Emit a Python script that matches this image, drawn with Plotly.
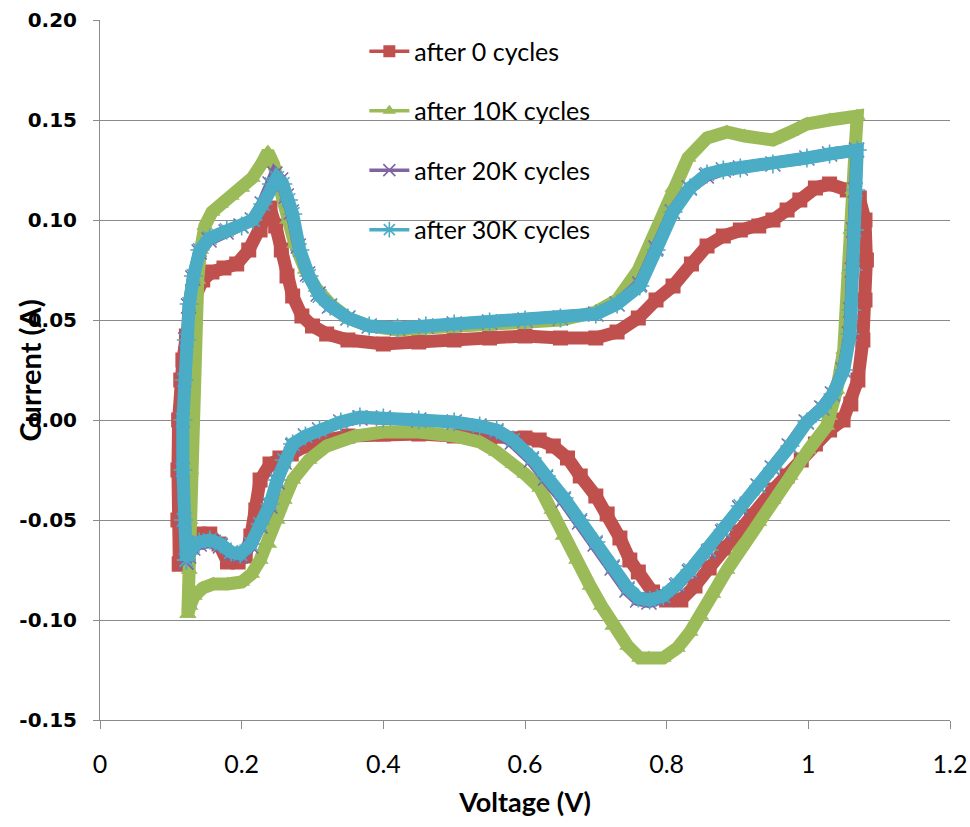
import plotly.graph_objects as go

# ---------------- data ----------------
series_names = ["after 0 cycles", "after 10K cycles", "after 20K cycles", "after 30K cycles"]

V_0 = [0.112, 0.110, 0.110, 0.111, 0.114, 0.117, 0.122, 0.128, 0.135, 0.145, 0.158, 0.175, 0.193, 0.210, 0.226,
       0.240, 0.248, 0.256, 0.264, 0.272, 0.285, 0.300, 0.320, 0.350, 0.400, 0.450, 0.500, 0.550, 0.600, 0.650,
       0.700, 0.730, 0.760, 0.785, 0.809, 0.835, 0.857, 0.880, 0.904, 0.930, 0.950, 0.970, 0.988, 1.010, 1.030,
       1.055, 1.072, 1.080, 1.082, 1.080, 1.077, 1.070, 1.060, 1.049,
       1.030, 1.010, 0.990, 0.970, 0.950, 0.920, 0.900, 0.880, 0.860, 0.840, 0.820, 0.800, 0.780, 0.760, 0.748,
       0.734, 0.716, 0.700, 0.678, 0.660, 0.640, 0.620, 0.600, 0.550, 0.500, 0.450, 0.400, 0.350, 0.320, 0.290,
       0.270, 0.254, 0.240, 0.226, 0.220, 0.213, 0.205, 0.195, 0.180, 0.168, 0.155, 0.140, 0.128, 0.118, 0.112]
I_0 = [-0.072, -0.050, -0.025, 0.000, 0.020, 0.030, 0.042, 0.053, 0.062, 0.070, 0.074, 0.076, 0.078, 0.085, 0.095,
       0.106, 0.097, 0.085, 0.072, 0.062, 0.052, 0.047, 0.043, 0.040, 0.038, 0.039, 0.040, 0.041, 0.042, 0.041,
       0.041, 0.044, 0.051, 0.060, 0.067, 0.078, 0.087, 0.092, 0.095, 0.097, 0.100, 0.105, 0.110, 0.116, 0.118,
       0.115, 0.111, 0.100, 0.080, 0.060, 0.040, 0.020, 0.008, 0.000,
       -0.005, -0.012, -0.020, -0.028, -0.035, -0.048, -0.056, -0.064, -0.074, -0.083, -0.090, -0.090, -0.086,
       -0.076, -0.070, -0.059, -0.047, -0.038, -0.028, -0.019, -0.013, -0.010, -0.009, -0.009, -0.008, -0.007,
       -0.007, -0.008, -0.010, -0.013, -0.017, -0.019, -0.022, -0.030, -0.045, -0.058, -0.068, -0.071, -0.071,
       -0.062, -0.057, -0.057, -0.060, -0.066, -0.072]

V_10K = [0.124, 0.126, 0.127, 0.128, 0.129, 0.131, 0.134, 0.138, 0.142, 0.148, 0.158, 0.170, 0.185, 0.200, 0.215,
         0.228, 0.237, 0.245, 0.255, 0.265, 0.275, 0.290, 0.305, 0.325, 0.350, 0.380, 0.420, 0.460, 0.500, 0.550,
         0.600, 0.650, 0.700, 0.730, 0.760, 0.785, 0.809, 0.830, 0.857, 0.885, 0.910, 0.950, 0.975, 0.998, 1.030,
         1.069, 1.066, 1.063, 1.060, 1.058, 1.056, 1.050, 1.040, 1.030,
         1.026, 1.000, 0.974, 0.950, 0.930, 0.904, 0.885, 0.865, 0.848, 0.833, 0.815, 0.795, 0.775, 0.762, 0.745,
         0.724, 0.708, 0.692, 0.673, 0.654, 0.638, 0.621, 0.600, 0.583, 0.560, 0.536, 0.500, 0.450, 0.400, 0.360,
         0.320, 0.295, 0.272, 0.260, 0.250, 0.238, 0.226, 0.214, 0.200, 0.180, 0.160, 0.145, 0.133, 0.127, 0.124]
I_10K = [-0.097, -0.075, -0.050, -0.025, 0.000, 0.025, 0.050, 0.070, 0.085, 0.097, 0.104, 0.108, 0.112, 0.116, 0.121,
         0.128, 0.134, 0.128, 0.115, 0.100, 0.088, 0.075, 0.066, 0.058, 0.051, 0.047, 0.045, 0.046, 0.047, 0.048,
         0.049, 0.050, 0.054, 0.060, 0.075, 0.095, 0.116, 0.131, 0.141, 0.144, 0.142, 0.140, 0.144, 0.148, 0.150,
         0.152, 0.135, 0.115, 0.095, 0.075, 0.055, 0.035, 0.015, 0.002,
         -0.003, -0.015, -0.028, -0.040, -0.051, -0.063, -0.075, -0.087, -0.098, -0.106, -0.114, -0.119, -0.119,
         -0.119, -0.113, -0.103, -0.093, -0.083, -0.070, -0.058, -0.045, -0.034, -0.027, -0.022, -0.016, -0.011,
         -0.008, -0.006, -0.006, -0.008, -0.013, -0.020, -0.030, -0.040, -0.050, -0.062, -0.070, -0.077, -0.081,
         -0.082, -0.082, -0.084, -0.088, -0.093, -0.097]

V_20K = [0.121, 0.118, 0.116, 0.116, 0.118, 0.121, 0.125, 0.131, 0.140, 0.154, 0.178, 0.199, 0.215, 0.229, 0.240,
         0.247, 0.255, 0.263, 0.270, 0.280, 0.293, 0.308, 0.324, 0.350, 0.380, 0.420, 0.460, 0.500, 0.550, 0.600,
         0.650, 0.700, 0.730, 0.762, 0.785, 0.808, 0.832, 0.856, 0.880, 0.904, 0.950, 0.998, 1.030, 1.068, 1.066,
         1.064, 1.062, 1.060, 1.058, 1.049, 1.034, 1.019,
         0.997, 0.973, 0.949, 0.929, 0.903, 0.879, 0.859, 0.832, 0.814, 0.794, 0.775, 0.759, 0.744, 0.723, 0.699,
         0.677, 0.654, 0.629, 0.609, 0.582, 0.559, 0.535, 0.500, 0.450, 0.400, 0.367, 0.340, 0.310, 0.290, 0.272,
         0.260, 0.250, 0.240, 0.226, 0.213, 0.198, 0.185, 0.170, 0.155, 0.140, 0.131, 0.125, 0.121]
I_20K = [-0.071, -0.050, -0.025, 0.000, 0.020, 0.040, 0.057, 0.071, 0.084, 0.090, 0.094, 0.097, 0.100, 0.108, 0.118,
         0.123, 0.120, 0.112, 0.104, 0.087, 0.073, 0.063, 0.057, 0.051, 0.047, 0.046, 0.047, 0.048, 0.049, 0.050,
         0.051, 0.053, 0.058, 0.068, 0.086, 0.104, 0.116, 0.122, 0.125, 0.126, 0.128, 0.131, 0.133, 0.135, 0.115,
         0.095, 0.075, 0.055, 0.043, 0.025, 0.013, 0.006,
         -0.001, -0.013, -0.024, -0.033, -0.044, -0.056, -0.066, -0.076, -0.083, -0.089, -0.091, -0.090, -0.085,
         -0.074, -0.062, -0.051, -0.040, -0.029, -0.020, -0.011, -0.006, -0.003, -0.001, 0.000, 0.001, 0.001,
         -0.001, -0.005, -0.008, -0.013, -0.021, -0.031, -0.043, -0.053, -0.063, -0.068, -0.067, -0.063, -0.061,
         -0.062, -0.064, -0.068, -0.071]

V_30K = [0.122, 0.118, 0.117, 0.117, 0.119, 0.122, 0.126, 0.132, 0.141, 0.155, 0.179, 0.200, 0.216, 0.230, 0.242,
         0.250, 0.258, 0.266, 0.272, 0.282, 0.295, 0.310, 0.325, 0.350, 0.380, 0.420, 0.460, 0.500, 0.550, 0.600,
         0.650, 0.700, 0.730, 0.762, 0.785, 0.809, 0.833, 0.857, 0.880, 0.904, 0.950, 0.998, 1.030, 1.069, 1.067,
         1.065, 1.063, 1.061, 1.059, 1.050, 1.035, 1.020,
         0.998, 0.974, 0.950, 0.930, 0.904, 0.880, 0.860, 0.833, 0.815, 0.795, 0.776, 0.760, 0.745, 0.724, 0.700,
         0.678, 0.655, 0.630, 0.610, 0.583, 0.560, 0.536, 0.500, 0.450, 0.400, 0.367, 0.340, 0.310, 0.290, 0.272,
         0.260, 0.250, 0.240, 0.226, 0.213, 0.198, 0.185, 0.170, 0.155, 0.140, 0.131, 0.125, 0.122]
I_30K = [-0.070, -0.050, -0.025, 0.000, 0.020, 0.040, 0.058, 0.072, 0.085, 0.091, 0.095, 0.097, 0.100, 0.108, 0.118,
         0.121, 0.118, 0.110, 0.103, 0.085, 0.072, 0.062, 0.057, 0.051, 0.047, 0.046, 0.047, 0.048, 0.049, 0.050,
         0.051, 0.053, 0.058, 0.067, 0.085, 0.104, 0.116, 0.123, 0.125, 0.126, 0.128, 0.131, 0.133, 0.135, 0.115,
         0.095, 0.075, 0.055, 0.043, 0.025, 0.013, 0.006,
         -0.001, -0.013, -0.024, -0.033, -0.043, -0.055, -0.065, -0.075, -0.082, -0.088, -0.090, -0.089, -0.084,
         -0.073, -0.061, -0.050, -0.039, -0.028, -0.019, -0.010, -0.005, -0.003, -0.001, 0.000, 0.001, 0.0015,
         -0.001, -0.005, -0.008, -0.012, -0.020, -0.030, -0.042, -0.052, -0.062, -0.067, -0.066, -0.062, -0.060,
         -0.061, -0.063, -0.067, -0.070]

x_ticks = [0, 0.2, 0.4, 0.6, 0.8, 1.0, 1.2]
x_tick_labels = ["0", "0.2", "0.4", "0.6", "0.8", "1", "1.2"]
y_ticks = [-0.15, -0.10, -0.05, 0.00, 0.05, 0.10, 0.15, 0.20]
y_tick_labels = ["-0.15", "-0.10", "-0.05", "0.00", "0.05", "0.10", "0.15", "0.20"]

# ---------------- styles ----------------
colors = ["#C0504D", "#9BBB59", "#8064A2", "#4BACC6"]
symbols = ["square", "triangle-up", "x-thin-open", "asterisk-open"]
msizes = [15, 15, 15, 16]
lwidths = [13, 13, 12, 13]
leg_msizes = [12, 12, 12, 13]

data = [(V_0, I_0), (V_10K, I_10K), (V_20K, I_20K), (V_30K, I_30K)]

fig = go.Figure()
for k, (vx, iy) in enumerate(data):
    open_sym = symbols[k].endswith("open")
    marker = dict(symbol=symbols[k], size=msizes[k], color=colors[k],
                  line=dict(color=colors[k], width=1.6 if open_sym else 0))
    fig.add_trace(go.Scatter(
        x=vx, y=iy, mode="lines+markers", name=series_names[k],
        legendgroup=series_names[k], showlegend=False,
        line=dict(color=colors[k], width=lwidths[k]),
        marker=marker, hoverinfo="x+y+name"))
for k in range(4):
    open_sym = symbols[k].endswith("open")
    fig.add_trace(go.Scatter(
        x=[None], y=[None], mode="lines+markers", name=series_names[k],
        legendgroup=series_names[k], showlegend=True,
        line=dict(color=colors[k], width=3.5),
        marker=dict(symbol=symbols[k], size=leg_msizes[k], color=colors[k],
                    line=dict(color=colors[k], width=1.6 if open_sym else 0))))

grid_col = "#8a8a8a"
fig.update_layout(
    width=970, height=827,
    margin=dict(l=100, r=20, t=20, b=107),
    paper_bgcolor="white", plot_bgcolor="white",
    font=dict(family="Lato", color="black"),
    showlegend=True,
    legend=dict(x=0.311, y=0.988, xanchor="left", yanchor="top",
                bgcolor="rgba(0,0,0,0)", font=dict(family="Lato", size=25, color="black"),
                traceorder="grouped", tracegroupgap=24, itemwidth=40),
    xaxis=dict(range=[0, 1.2], tickmode="array", tickvals=x_ticks, ticktext=x_tick_labels,
               showgrid=False, zeroline=False, showline=True, linecolor=grid_col, linewidth=1,
               ticks="outside", ticklen=8, tickcolor=grid_col, ticklabelstandoff=14,
               automargin=False,
               tickfont=dict(family="Lato", size=25, color="black"),
               title=dict(text="<b>Voltage (V)</b>", font=dict(family="Lato", size=27, color="black"),
                          standoff=16)),
    yaxis=dict(range=[-0.15, 0.20], tickmode="array", tickvals=y_ticks, ticktext=y_tick_labels,
               showgrid=True, gridcolor=grid_col, gridwidth=1, zeroline=False,
               showline=True, linecolor=grid_col, linewidth=1, automargin=False,
               ticks="outside", ticklen=6, tickcolor=grid_col, ticklabelstandoff=12,
               tickfont=dict(family="DejaVu Sans", size=20, color="black", weight="bold")),
    annotations=[dict(text="<b>Current (A)</b>", textangle=-90, xref="paper", yref="paper",
                      x=-0.083, y=0.5, xanchor="center", yanchor="middle", showarrow=False,
                      font=dict(family="Lato", size=29, color="black"))],
)

fig.write_html("out.html")
